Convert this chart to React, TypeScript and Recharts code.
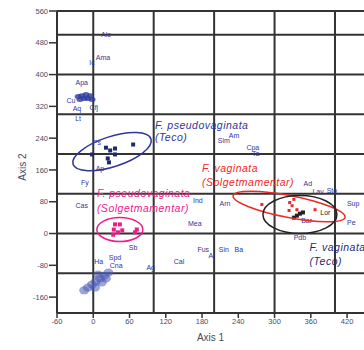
import React from "react";
import {
  ScatterChart,
  Scatter,
  XAxis,
  YAxis,
  ReferenceLine,
  ReferenceDot,
  Label,
} from "recharts";

// axis ticks and grid positions
const xTicks = [-60, 0, 60, 120, 180, 240, 300, 360, 420];
const yTicks = [-160, -80, 0, 80, 160, 240, 320, 400, 480, 560];
const gridX = [0, 100, 200, 300, 400];
const gridY = [-100, 0, 100, 200, 300, 400, 500, 560];

// labelled sampling sites (scores on axis 1 / axis 2)
const siteNames = [
  "Alc", "Ama", "Ic", "Apa", "Cu", "Cfj", "Aq", "Lt", "Ps", "Ap", "Fy", "Cas",
  "Sim", "Am", "Cpa", "Ta", "Ad", "Lav", "Sto", "Sup", "Pe", "Ind", "Arn", "Mea",
  "Sb", "Ha", "Spd", "Cna", "Ag", "Cal", "Fus", "Al", "Sin", "Ba", "Pdb", "Bar",
];
const siteX = [
  21, 16, -2, -19, -37, 1, -27, -25, 6, 11, -14, -19,
  216, 233, 264, 269, 355, 372, 395, 430, 427, 173, 218, 168,
  66, 9, 36, 38, 95, 142, 182, 196, 216, 241, 342, 353,
];
const siteY = [
  501, 443, 430, 380, 335, 317, 315, 289, 229, 164, 128, 70,
  234, 247, 216, 201, 126, 106, 108, 75, 28, 83, 75, 25,
  -35, -70, -60, -81, -86, -70, -40, -55, -40, -40, -10, 33,
];

// unlabelled dense clusters of sites
const upperClusterX = [-25, -19, -12, -5, -15, -9, -2, -22];
const upperClusterY = [345, 347, 350, 347, 340, 340, 337, 337];
const lowerClusterX = [25, 18, 11, 4, -2, -9, -15, 14, 3, 21, 8];
const lowerClusterY = [-98, -106, -113, -121, -128, -136, -143, -123, -136, -113, -103];

// F. pseudovaginata (Teco)
const pseudoTecoX = [-2, 21, 28, 36, 36, 24, 26, 66];
const pseudoTecoY = [199, 216, 209, 214, 199, 189, 179, 224];
// F. pseudovaginata (Solgetmamentar)
const pseudoSolgX = [36, 44, 34, 41, 33, 48, 69, 72];
const pseudoSolgY = [23, 23, 10, 3, -3, 8, 3, 10];
// F. vaginata (Solgetmamentar)
const vagSolgX = [279, 325, 332, 329, 337, 324, 367];
const vagSolgY = [73, 78, 86, 70, 60, 58, 60];
// F. vaginata (Teco)
const vagTecoX = [332, 337, 342, 347];
const vagTecoY = [40, 45, 50, 53];
const vagTecoNames = ["Lor"];
const vagTecoNameX = [384];
const vagTecoNameY = [53];

// group ellipse centres and label anchors
const groupNames = [
  "F. pseudovaginata|(Teco)",
  "F. pseudovaginata|(Solgetmamentar)",
  "F. vaginata|(Solgetmamentar)",
  "F. vaginata|(Teco)",
];
const ellipseX = [31, 44, 324, 342];
const ellipseY = [206, 10, 68, 48];
const groupLabelX = [102, 6, 180, 358];
const groupLabelY = [272, 101, 166, -33];

const BLUE = "#32359a";
const MAGENTA = "#ec1c8c";
const RED = "#ee2a26";
const DARK = "#222222";
const NAVY = "#1f2a6e";
const GRID = "#333333";
const FONT = "'Liberation Sans', Arial, sans-serif";

const groupColors = [BLUE, MAGENTA, RED, NAVY];
const ellipseStyle = [
  { rx: 41, ry: 15, rot: -18 },
  { rx: 23, ry: 12, rot: 0 },
  { rx: 57, ry: 11, rot: 11 },
  { rx: 37, ry: 19, rot: 0 },
];
const lineGap = [12, 15, 14, 14];

const zip = (xs: number[], ys: number[], names?: string[]) =>
  xs.map((x, i) => ({ x, y: ys[i], name: names ? names[i] : "" }));

const sites = zip(siteX, siteY, siteNames);
const vagTecoLabels = zip(vagTecoNameX, vagTecoNameY, vagTecoNames);

const labelShape = (color: string) => (p: any) => (
  <text
    x={p.cx}
    y={p.cy}
    fill={color}
    fontSize={7}
    fontFamily={FONT}
    textAnchor="middle"
    dominantBaseline="central"
  >
    {p.payload.name}
  </text>
);

const squareShape = (color: string, s: number) => (p: any) => (
  <rect x={p.cx - s / 2} y={p.cy - s / 2} width={s} height={s} fill={color} />
);

const blobShape = (rx: number, ry: number, color: string, op: number) => (p: any) => (
  <ellipse cx={p.cx} cy={p.cy} rx={rx} ry={ry} fill={color} fillOpacity={op} />
);

const tickStyle = { fontSize: 7.5, fill: "#4a4a66", fontFamily: FONT };

export default function App() {
  return (
    <div style={{ position: "absolute", left: 0, top: 0, background: "#fff" }}>
      <ScatterChart
        width={364}
        height={350}
        margin={{ top: 11, right: 0, bottom: 7, left: 0 }}
      >
        <XAxis
          type="number"
          dataKey="x"
          domain={[-60, 448]}
          ticks={xTicks}
          allowDataOverflow
          height={30}
          tick={tickStyle}
          tickSize={5}
          tickMargin={1}
          axisLine={{ stroke: GRID, strokeWidth: 2 }}
          tickLine={{ stroke: GRID, strokeWidth: 1.5 }}
        >
          <Label
            value="Axis 1"
            position="insideBottom"
            offset={2}
            style={{ fontSize: 10, fill: "#4a4a66", fontFamily: FONT }}
          />
        </XAxis>
        <YAxis
          type="number"
          dataKey="y"
          domain={[-200, 560]}
          ticks={yTicks}
          allowDataOverflow
          width={57}
          tick={tickStyle}
          tickSize={8}
          tickMargin={1}
          axisLine={{ stroke: GRID, strokeWidth: 2 }}
          tickLine={{ stroke: GRID, strokeWidth: 1.5 }}
        >
          <Label
            value="Axis 2"
            content={(p: any) => (
              <text
                x={22}
                y={p.viewBox.y + p.viewBox.height / 2 + 5}
                transform={`rotate(-90 22 ${p.viewBox.y + p.viewBox.height / 2 + 5})`}
                textAnchor="middle"
                dominantBaseline="central"
                fontSize={10}
                fill="#4a4a66"
                fontFamily={FONT}
              >
                Axis 2
              </text>
            )}
          />
        </YAxis>

        {gridX.map((v) => (
          <ReferenceLine key={"gx" + v} x={v} stroke={GRID} strokeWidth={2} />
        ))}
        {gridY.map((v) => (
          <ReferenceLine key={"gy" + v} y={v} stroke={GRID} strokeWidth={2} />
        ))}

        <Scatter
          data={zip(upperClusterX, upperClusterY)}
          shape={blobShape(3.5, 2.5, "#2f3aa0", 0.8)}
          isAnimationActive={false}
        />
        <Scatter
          data={zip(lowerClusterX, lowerClusterY)}
          shape={blobShape(5, 4, "#4b5bb5", 0.55)}
          isAnimationActive={false}
        />
        <Scatter
          data={zip(pseudoTecoX, pseudoTecoY)}
          shape={squareShape(NAVY, 4)}
          isAnimationActive={false}
        />
        <Scatter
          data={zip(pseudoSolgX, pseudoSolgY)}
          shape={squareShape(MAGENTA, 4)}
          isAnimationActive={false}
        />
        <Scatter
          data={zip(vagSolgX, vagSolgY)}
          shape={squareShape(RED, 3)}
          isAnimationActive={false}
        />
        <Scatter
          data={zip(vagTecoX, vagTecoY)}
          shape={squareShape(DARK, 4)}
          isAnimationActive={false}
        />
        <Scatter data={sites} shape={labelShape(BLUE)} isAnimationActive={false} />
        <Scatter
          data={vagTecoLabels}
          shape={labelShape(DARK)}
          isAnimationActive={false}
        />

        {groupNames.map((g, i) => (
          <ReferenceDot
            key={"el" + i}
            x={ellipseX[i]}
            y={ellipseY[i]}
            shape={(p: any) => (
              <ellipse
                cx={p.cx}
                cy={p.cy}
                rx={ellipseStyle[i].rx}
                ry={ellipseStyle[i].ry}
                transform={`rotate(${ellipseStyle[i].rot} ${p.cx} ${p.cy})`}
                fill="none"
                stroke={i === 3 ? DARK : groupColors[i]}
                strokeWidth={1.5}
              />
            )}
          />
        ))}
        {groupNames.map((g, i) => (
          <ReferenceDot
            key={"gl" + i}
            x={groupLabelX[i]}
            y={groupLabelY[i]}
            shape={(p: any) => (
              <text
                x={p.cx}
                y={p.cy}
                fill={groupColors[i]}
                fontSize={10.5}
                letterSpacing={0.5}
                fontStyle="italic"
                fontFamily={FONT}
                dominantBaseline="central"
              >
                {g.split("|").map((line, j) => (
                  <tspan key={j} x={p.cx} dy={j === 0 ? 0 : lineGap[i]}>
                    {line}
                  </tspan>
                ))}
              </text>
            )}
          />
        ))}
      </ScatterChart>
    </div>
  );
}
